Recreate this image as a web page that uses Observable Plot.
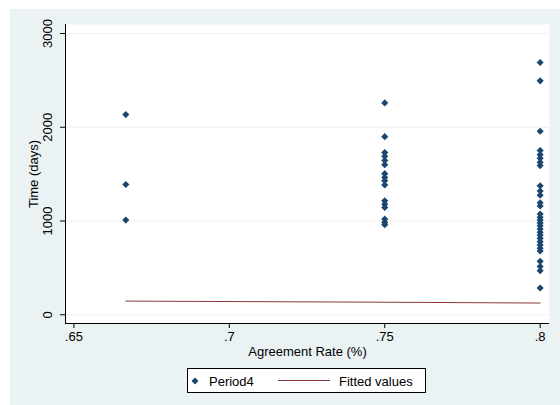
<!DOCTYPE html>
<html>
<head>
<meta charset="utf-8">
<script src="https://cdn.jsdelivr.net/npm/d3@7"></script>
<script src="https://cdn.jsdelivr.net/npm/@observablehq/plot@0.6"></script>
<style>
  html, body { margin: 0; padding: 0; background: #ffffff; }
  #page { position: relative; width: 560px; height: 405px; background: #ffffff; overflow: hidden; font-family: "Liberation Sans", Arial, sans-serif; }
  #panel { position: absolute; left: 10px; top: 9px; width: 550px; height: 396px; background: #EAF2F3; }
  #chart { position: absolute; left: 0; top: 0; }
  #legend { position: absolute; left: 177px; top: 359px; width: 237px; height: 23px; background: #ffffff; border: 1px solid #000; font-size: 13px; color: #000; }
  #legend svg { position: absolute; left: 0; top: 0; }
</style>
</head>
<body>
<div id="page">
  <div id="panel">
    <div id="chart"></div>
    <div id="legend"></div>
  </div>
</div>
<script>
// ---- data ----
const agreementLevels = [0.6667, 0.75, 0.8];
const daysAt667 = [2135, 1390, 1010];
const daysAt750 = [2260, 1900, 1730, 1690, 1645, 1600, 1505, 1465, 1430, 1385, 1215, 1180, 1145, 1020, 985, 960];
const daysAt800 = [2690, 2495, 1957, 1751, 1708, 1669, 1626, 1591, 1375, 1320, 1275, 1195, 1160,
                   1075, 1040, 1010, 980, 950, 915, 880, 850, 815, 780, 745, 710, 680, 570, 515, 470, 285];
const fittedX = [0.6667, 0.75, 0.8];
const fittedY = [146, 134, 125];
const xTicks = [0.65, 0.7, 0.75, 0.8];
const xTickLabels = [".65", ".7", ".75", ".8"];
const yTicks = [0, 1000, 2000, 3000];
const yTickLabels = ["0", "1000", "2000", "3000"];
const seriesNames = ["Period4", "Fitted values"];
const xTitle = "Agreement Rate (%)";
const yTitle = "Time (days)";

// ---- build tables ----
const points = [
  ...daysAt667.map(v => ({x: agreementLevels[0], y: v})),
  ...daysAt750.map(v => ({x: agreementLevels[1], y: v})),
  ...daysAt800.map(v => ({x: agreementLevels[2], y: v}))
];
const fitted = fittedX.map((x, i) => ({x, y: fittedY[i]}));

const navy = "#1A476F";
const maroon = "#90353B";
const xDomain = [0.6473, 0.803];
const yDomain = [-93, 3096];

const chart = Plot.plot({
  width: 550,
  height: 360,
  marginLeft: 55,
  marginRight: 11,
  marginTop: 15,
  marginBottom: 46,
  style: {background: "transparent", fontFamily: "'Liberation Sans', Arial, sans-serif", fontSize: "13px", color: "#000", overflow: "visible"},
  x: {type: "linear", domain: xDomain, axis: null},
  y: {type: "linear", domain: yDomain, axis: null},
  marks: [
    Plot.frame({fill: "#ffffff", stroke: null}),
    Plot.ruleY(yTicks, {stroke: "#EAF2F3", strokeWidth: 1}),
    // axis lines
    Plot.ruleX([xDomain[0]], {stroke: "#000", strokeWidth: 1}),
    Plot.ruleY([yDomain[0]], {stroke: "#000", strokeWidth: 1}),
    // y axis ticks and labels
    Plot.axisY({ticks: yTicks, tickSize: 5, tickFormat: () => "", label: null, stroke: "#000"}),
    Plot.text(yTicks, {y: d => d, text: (d, i) => yTickLabels[i], frameAnchor: "left", textAnchor: "middle", dx: -18, rotate: -90, fill: "#000", fontSize: 13}),
    Plot.text([yTitle], {text: d => d, frameAnchor: "left", textAnchor: "middle", dx: -32, rotate: -90, fill: "#000", fontSize: 13}),
    // x axis ticks and labels
    Plot.axisX({ticks: xTicks, tickSize: 5, tickPadding: 3, tickFormat: d => xTickLabels[xTicks.indexOf(d)], label: null, fill: "#000", stroke: "#000", fontSize: 13}),
    Plot.text([xTitle], {text: d => d, frameAnchor: "bottom", dy: 32, fill: "#000", fontSize: 13}),
    // fitted line
    Plot.line(fitted, {x: "x", y: "y", stroke: maroon, strokeWidth: 1}),
    // points
    Plot.dot(points, {x: "x", y: "y", symbol: "diamond2", r: 3.2, fill: navy, stroke: null})
  ]
});
document.getElementById("chart").appendChild(chart);

// ---- legend ----
const lg = document.getElementById("legend");
lg.innerHTML = `<svg width="237" height="23" xmlns="http://www.w3.org/2000/svg" font-family="'Liberation Sans', Arial, sans-serif" font-size="13">
  <path d="M7,8.5 L10.5,12 L7,15.5 L3.5,12 Z" fill="${navy}"/>
  <text x="21" y="16.5" fill="#000">${seriesNames[0]}</text>
  <line x1="90" x2="142" y1="11.5" y2="11.5" stroke="${maroon}" stroke-width="1"/>
  <text x="151" y="16.5" fill="#000">${seriesNames[1]}</text>
</svg>`;
</script>
</body>
</html>
